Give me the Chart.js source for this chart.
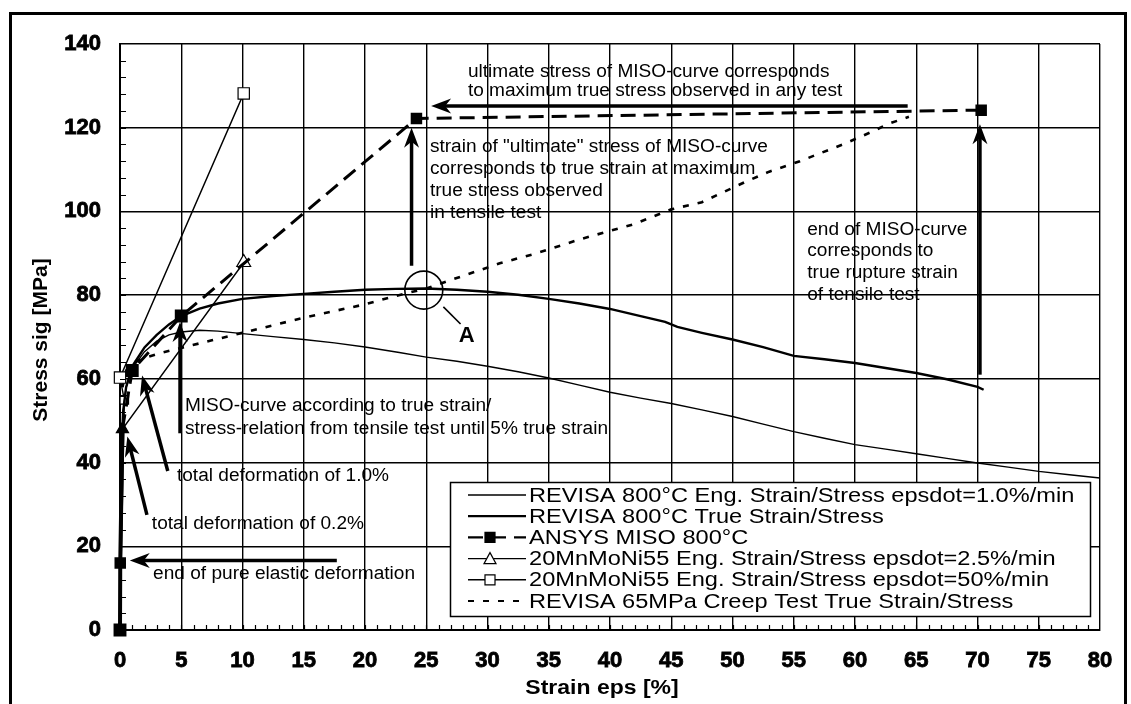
<!DOCTYPE html>
<html>
<head>
<meta charset="utf-8">
<script src="https://cdn.jsdelivr.net/npm/chart.js@4.4.1/dist/chart.umd.min.js"></script>
<style>
  html, body { margin: 0; padding: 0; background: #fff; }
  #wrap { width: 1131px; height: 704px; }
</style>
</head>
<body>
<div id="wrap"><canvas id="stressChart" width="1131" height="704"></canvas></div>
<script>
// Tick values
const xTicks = [0, 5, 10, 15, 20, 25, 30, 35, 40, 45, 50, 55, 60, 65, 70, 75, 80];
const yTicks = [0, 20, 40, 60, 80, 100, 120, 140];

// REVISA 800°C Eng. Strain/Stress epsdot=1.0%/min
const engStrain = [0, 0.1, 0.25, 0.5, 1, 2, 3, 4, 5, 6.5, 8, 10, 12.5, 15, 17.5, 20, 22.8, 25, 27.5, 30,
    32.5, 35, 37.5, 40, 42.5, 45, 47.5, 50, 52.5, 55, 57.5, 60, 62.5, 65, 67.5, 70, 72.5, 75, 77.5, 80, 81];
const engStress = [0, 40, 52, 58, 62.5, 66.5, 69, 70.5, 71.2, 71.6, 71.4, 70.8, 70.1, 69.4, 68.6, 67.6, 66.3, 65.2, 64.2, 63.0,
    61.7, 60.2, 58.5, 56.8, 55.4, 54.1, 52.6, 51.0, 49.2, 47.4, 45.8, 44.3, 43.2, 42.1, 41.0, 39.9, 38.9, 37.9, 37.1, 36.3, 36.0];

// REVISA 800°C True Strain/Stress
const trueStrain = [0, 0.1, 0.25, 0.5, 1, 2, 3, 4, 5, 6.5, 8, 10, 12.5, 15, 17.5, 20, 22.5, 25, 27.5, 30,
    32.5, 35, 37.5, 40, 42.5, 44.5, 45.5, 47.5, 50, 52.5, 55, 57.5, 60, 62.5, 65, 67.5, 70, 70.5];
const trueStress = [0, 40, 52, 58, 63, 67.5, 70.5, 73, 75, 76.8, 78, 79.1, 79.8, 80.3, 80.8, 81.3, 81.5, 81.6, 81.3, 80.8,
    80.1, 79.1, 78.0, 76.7, 75.0, 73.6, 72.4, 71.0, 69.4, 67.6, 65.5, 64.7, 63.8, 62.6, 61.4, 59.9, 58.1, 57.4];

// ANSYS MISO 800°C
const misoStrain = [0, 0.02, 0.2, 1, 5, 24.2, 70.3];
const misoStress = [0, 16, 48, 62, 75, 122.2, 124.2];

// 20MnMoNi55 Eng. Strain/Stress epsdot=2.5%/min
const triStrain = [0, 0.2, 10.1];
const triStress = [0, 48, 87.8];

// 20MnMoNi55 Eng. Strain/Stress epsdot=50%/min
const sqStrain = [0, 0.35, 0, 10.1];
const sqStress = [0, 55, 60.3, 128.2];

// REVISA 65MPa Creep Test True Strain/Stress
const creepStrain = [0.2, 0.5, 1, 2, 3.5, 5, 7.5, 10, 12.5, 15, 17.5, 20, 22.5, 25, 27, 29, 31, 34, 37.5, 42,
    45, 47.5, 51, 53, 55.5, 59, 61.2, 62.8, 64.4];
const creepStress = [58, 62, 63.8, 65, 66.3, 67.4, 69.2, 71, 72.8, 74.6, 76.2, 77.8, 79.8, 81.6, 83.6, 85.6, 87.6, 90, 93.3, 97,
    100.5, 102.2, 107, 109.5, 112, 116, 118.8, 121, 122.6];

const seriesLabels = [
    'REVISA 800°C Eng. Strain/Stress epsdot=1.0%/min',
    'REVISA 800°C True Strain/Stress',
    'ANSYS MISO 800°C',
    '20MnMoNi55 Eng. Strain/Stress epsdot=2.5%/min',
    '20MnMoNi55 Eng. Strain/Stress epsdot=50%/min',
    'REVISA 65MPa Creep Test True Strain/Stress'
];

const xTitle = 'Strain eps [%]';
const yTitle = 'Stress sig [MPa]';

// annotation texts, anchored in data units (left edge, vertical middle)
const notes = [
    { at: [28.4, 133.4], text: 'ultimate stress of MISO-curve corresponds' },
    { at: [28.4, 128.7], text: 'to maximum true stress observed in any test' },
    { at: [25.3, 115.4], text: 'strain of "ultimate" stress of MISO-curve' },
    { at: [25.3, 110.2], text: 'corresponds to true strain at maximum' },
    { at: [25.3, 104.9], text: 'true stress observed' },
    { at: [25.3, 99.7], text: 'in tensile test' },
    { at: [56.1, 95.6], text: 'end of MISO-curve' },
    { at: [56.1, 90.6], text: 'corresponds to' },
    { at: [56.1, 85.3], text: 'true rupture strain' },
    { at: [56.1, 80.0], text: 'of tensile test' },
    { at: [5.3, 53.6], text: 'MISO-curve according to true strain/' },
    { at: [5.3, 48.1], text: 'stress-relation from tensile test until 5% true strain' },
    { at: [4.65, 36.8], text: 'total deformation of 1.0%' },
    { at: [2.6, 25.4], text: 'total deformation of 0.2%' },
    { at: [2.7, 13.4], text: 'end of pure elastic deformation' }
];

// arrows: from -> tip
const arrows = [
    [[64.3, 125.2], [25.4, 125.2]],
    [[23.8, 87], [23.8, 120]],
    [[70.2, 61], [70.2, 120.8]],
    [[4.9, 47], [4.9, 73.6]],
    [[3.9, 38], [1.8, 60.8]],
    [[2.2, 27.5], [0.6, 46.2]],
    [[17.7, 16.6], [0.8, 16.6]]
];

const toPoints = (xs, ys) => xs.map((v, i) => ({ x: v, y: ys[i] }));

const FONT = '"Liberation Sans", Arial, sans-serif';

function stretchText(ctx, text, x, y, sx) {
    ctx.save();
    ctx.translate(x, y);
    ctx.scale(sx, 1);
    ctx.fillText(text, 0, 0);
    ctx.restore();
}

function drawArrow(ctx, x1, y1, x2, y2) {
    const ang = Math.atan2(y2 - y1, x2 - x1);
    const len = 20, half = 7.5;
    ctx.save();
    ctx.strokeStyle = '#000';
    ctx.fillStyle = '#000';
    ctx.lineWidth = 3.5;
    ctx.setLineDash([]);
    ctx.beginPath();
    ctx.moveTo(x1, y1);
    ctx.lineTo(x2 - Math.cos(ang) * 10, y2 - Math.sin(ang) * 10);
    ctx.stroke();
    ctx.translate(x2, y2);
    ctx.rotate(ang);
    ctx.beginPath();
    ctx.moveTo(0, 0);
    ctx.lineTo(-len, -half);
    ctx.lineTo(-len + 6, 0);
    ctx.lineTo(-len, half);
    ctx.closePath();
    ctx.fill();
    ctx.restore();
}

function drawMarker(ctx, style, cx, cy, filled) {
    ctx.save();
    ctx.setLineDash([]);
    ctx.lineWidth = 1.2;
    ctx.strokeStyle = '#000';
    ctx.fillStyle = filled ? '#000' : '#fff';
    ctx.beginPath();
    if (style === 'rect') {
        ctx.rect(cx - 5, cy - 5, 10, 10);
    } else {
        ctx.moveTo(cx, cy - 6);
        ctx.lineTo(cx + 6, cy + 5);
        ctx.lineTo(cx - 6, cy + 5);
        ctx.closePath();
    }
    ctx.fill();
    ctx.stroke();
    ctx.restore();
}

const decorPlugin = {
    id: 'decor',
    beforeDraw(chart) {
        const ctx = chart.ctx;
        ctx.save();
        ctx.fillStyle = '#fff';
        ctx.fillRect(0, 0, chart.width, chart.height);
        // outer frame (bottom edge is outside the picture)
        ctx.strokeStyle = '#000';
        ctx.lineWidth = 3;
        ctx.beginPath();
        ctx.moveTo(10.5, 710);
        ctx.lineTo(10.5, 13.5);
        ctx.lineTo(1125.5, 13.5);
        ctx.lineTo(1125.5, 710);
        ctx.stroke();
        ctx.restore();
    },
    afterDraw(chart) {
        const { ctx, chartArea: area } = chart;
        const xs = chart.scales.x, ys = chart.scales.y;
        const px = v => xs.getPixelForValue(v);
        const py = v => ys.getPixelForValue(v);
        ctx.save();

        // minor ticks inside the plot
        ctx.strokeStyle = '#000';
        ctx.lineWidth = 1.2;
        ctx.beginPath();
        for (let v = 1; v < 80; v++) {
            const x = Math.round(px(v)) + 0.5;
            ctx.moveTo(x, area.bottom);
            ctx.lineTo(x, area.bottom - 5);
        }
        for (let v = 4; v < 140; v += 4) {
            const y = Math.round(py(v)) + 0.5;
            ctx.moveTo(area.left, y);
            ctx.lineTo(area.left + 6, y);
        }
        ctx.stroke();

        // axis titles
        ctx.fillStyle = '#000';
        ctx.textBaseline = 'middle';
        ctx.textAlign = 'center';
        ctx.font = 'bold 20px ' + FONT;
        stretchText(ctx, xTitle, 602, 688, 1.15);
        ctx.save();
        ctx.translate(41, 340);
        ctx.rotate(-Math.PI / 2);
        ctx.font = 'bold 21px ' + FONT;
        ctx.fillText(yTitle, 0, 0);
        ctx.restore();

        // notes
        ctx.font = '18px ' + FONT;
        ctx.textAlign = 'left';
        notes.forEach(n => stretchText(ctx, n.text, px(n.at[0]), py(n.at[1]), 1.06));

        // arrows
        arrows.forEach(a => drawArrow(ctx, px(a[0][0]), py(a[0][1]), px(a[1][0]), py(a[1][1])));

        // circle A
        ctx.lineWidth = 1.6;
        ctx.beginPath();
        ctx.arc(px(24.8), py(81.2), 19, 0, Math.PI * 2);
        ctx.stroke();
        ctx.beginPath();
        ctx.moveTo(px(26.4), py(77.2));
        ctx.lineTo(px(27.8), py(73.1));
        ctx.stroke();
        ctx.font = 'bold 22px ' + FONT;
        ctx.textAlign = 'center';
        ctx.fillText('A', px(28.3), py(70.3));

        // legend box
        const bx = 450, by = 482, bw = 640, bh = 134;
        ctx.fillStyle = '#fff';
        ctx.fillRect(bx, by, bw, bh);
        ctx.lineWidth = 1.5;
        ctx.strokeRect(bx + 0.5, by + 0.5, bw, bh);
        ctx.font = '20px ' + FONT;
        ctx.textAlign = 'left';
        chart.data.datasets.forEach((ds, i) => {
            const rowY = by + 13 + i * 21.2;
            ctx.save();
            ctx.strokeStyle = '#000';
            ctx.lineWidth = Math.min(ds.borderWidth, 2.2);
            ctx.setLineDash(ds.borderDash || []);
            ctx.beginPath();
            ctx.moveTo(468, rowY);
            ctx.lineTo(526, rowY);
            ctx.stroke();
            ctx.restore();
            if (ds.pointStyle && ds.legendMarker) {
                drawMarker(ctx, ds.pointStyle, 490, rowY, ds.legendFilled);
            }
            ctx.fillStyle = '#000';
            stretchText(ctx, ds.label, 529, rowY + 1, 1.18);
        });

        ctx.restore();
    }
};

const ctx = document.getElementById('stressChart').getContext('2d');

new Chart(ctx, {
    type: 'line',
    data: {
        datasets: [{
            label: seriesLabels[0],
            data: toPoints(engStrain, engStress),
            borderColor: '#000',
            borderWidth: 1.4,
            pointRadius: 0
        }, {
            label: seriesLabels[1],
            data: toPoints(trueStrain, trueStress),
            borderColor: '#000',
            borderWidth: 2.4,
            pointRadius: 0
        }, {
            label: seriesLabels[2],
            data: toPoints(misoStrain, misoStress),
            clip: false,
            borderColor: '#000',
            borderWidth: 3,
            borderDash: [15, 8],
            segment: {
                borderDash: c => (c.p1.parsed.x < 0.5 ? [] : undefined),
                borderWidth: c => (c.p1.parsed.x < 0.5 ? 4 : undefined)
            },
            pointStyle: 'rect',
            legendMarker: true,
            legendFilled: true,
            pointRadius: [7, 6, 0, 7, 7, 6, 6],
            pointBackgroundColor: '#000',
            pointBorderColor: '#000'
        }, {
            label: seriesLabels[3],
            data: toPoints(triStrain, triStress),
            clip: false,
            borderColor: '#000',
            borderWidth: 1.4,
            pointStyle: 'triangle',
            legendMarker: true,
            pointRadius: [0, 7, 8],
            pointBackgroundColor: ['#fff', '#000', '#fff'],
            pointBorderColor: '#000',
            pointBorderWidth: 1.2
        }, {
            label: seriesLabels[4],
            data: toPoints(sqStrain, sqStress),
            clip: false,
            borderColor: '#000',
            borderWidth: 1.4,
            pointStyle: 'rect',
            legendMarker: true,
            pointRadius: [0, 6, 8, 8],
            pointBackgroundColor: '#fff',
            pointBorderColor: '#000',
            pointBorderWidth: 1.2
        }, {
            label: seriesLabels[5],
            data: toPoints(creepStrain, creepStress),
            borderColor: '#000',
            borderWidth: 2.6,
            borderDash: [6, 9],
            pointRadius: 0
        }]
    },
    options: {
        responsive: false,
        animation: false,
        events: [],
        layout: { padding: { top: 44, right: 31, left: 0, bottom: 0 } },
        elements: { line: { tension: 0 } },
        scales: {
            x: {
                type: 'linear',
                min: 0,
                max: 80,
                afterFit: s => { s.height = 74; },
                afterBuildTicks: s => { s.ticks = xTicks.map(v => ({ value: v })); },
                ticks: {
                    color: '#000',
                    padding: 18,
                    maxRotation: 0,
                    textStrokeColor: '#000',
                    textStrokeWidth: 0.8,
                    font: { family: FONT, size: 22, weight: 'bold' }
                },
                grid: { color: '#000', lineWidth: 1.4, drawTicks: false },
                border: { color: '#000', width: 2 }
            },
            y: {
                min: 0,
                max: 140,
                afterFit: s => { s.width = 120; },
                afterBuildTicks: s => { s.ticks = yTicks.map(v => ({ value: v })); },
                ticks: {
                    color: '#000',
                    padding: 19,
                    textStrokeColor: '#000',
                    textStrokeWidth: 0.8,
                    font: { family: FONT, size: 22, weight: 'bold' }
                },
                grid: { color: '#000', lineWidth: 1.4, drawTicks: false },
                border: { color: '#000', width: 2 }
            }
        },
        plugins: {
            legend: { display: false },
            tooltip: { enabled: false }
        }
    },
    plugins: [decorPlugin]
});
</script>
</body>
</html>
